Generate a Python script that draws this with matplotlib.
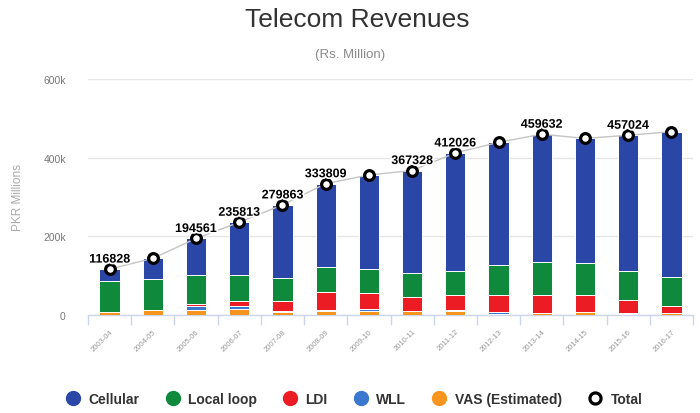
import numpy as np
import matplotlib
matplotlib.use("Agg")
import matplotlib.pyplot as plt
from matplotlib.lines import Line2D
import matplotlib.patheffects as pe
from matplotlib.ticker import FixedLocator

plt.rcParams['font.family'] = ['Liberation Sans', 'DejaVu Sans']

years = ["2003-04", "2004-05", "2005-06", "2006-07", "2007-08", "2008-09", "2009-10",
         "2010-11", "2011-12", "2012-13", "2013-14", "2014-15", "2015-16", "2016-17"]
cellular = [29828, 53000, 92561, 134813, 186000, 213000, 240000, 261000, 299000, 312000,
            324000, 318000, 344000, 370000]
local_loop = [79000, 79000, 74000, 65000, 58000, 62000, 59000, 59500, 62000, 76000,
              85000, 80500, 76000, 74000]
ldi = [0, 0, 5000, 14000, 26000, 47000, 43000, 36000, 38000, 44000, 45000, 42000, 33000, 18000]
wll = [0, 0, 11000, 6000, 1000, 1000, 3000, 1000, 4000, 4000, 1000, 500, 500, 0]
vas = [8000, 12000, 12000, 16000, 8863, 10809, 11000, 9828, 9026, 3000, 4632, 8000, 3524, 4000]
total = [116828, 144000, 194561, 235813, 279863, 333809, 356000, 367328, 412026, 439000,
         459632, 449000, 457024, 466000]
labelled = [0, 2, 3, 4, 5, 7, 8, 10, 12]

series = [("VAS (Estimated)", vas, "#f7941d"),
          ("WLL", wll, "#3a78d0"),
          ("LDI", ldi, "#ec1c24"),
          ("Local loop", local_loop, "#0f8a3c"),
          ("Cellular", cellular, "#2a47a7")]

W, H = 700, 414
fig = plt.figure(figsize=(W / 100, H / 100), dpi=100)
ax = fig.add_axes([88 / W, 1 - 316 / H, (693 - 88) / W, (316 - 80) / H])

x = np.arange(len(years))
bottom = np.zeros(len(years))
for name, vals, col in series:
    v = np.array(vals, dtype=float)
    ax.bar(x, v, bottom=bottom, width=0.47, color=col, edgecolor='white', linewidth=0.7, zorder=3)
    bottom += v

ax.plot(x, total, color='#c4c4c4', lw=1, zorder=4)
ax.plot(x, total, ls='', marker='o', ms=7, mfc='white', mec='black', mew=2.3, zorder=5)
for i in labelled:
    ax.annotate(f"{total[i]}", (x[i], total[i]), xytext=(0, 2.5), textcoords='offset points',
                ha='center', va='bottom', fontsize=9, fontweight='bold', color='black', zorder=6,
                path_effects=[pe.withStroke(linewidth=2.5, foreground='white')])

ax.set_xlim(-0.5, len(years) - 0.5)
ax.set_ylim(0, 600000)
ax.set_yticks([0, 200000, 400000, 600000])
ax.set_yticklabels(["0", "200k", "400k", "600k"], fontsize=7.5, color='#777777')
ax.tick_params(axis='y', length=0, pad=16)
ax.grid(axis='y', color='#e6e6e6', lw=1, zorder=0)
ax.set_axisbelow(True)
for s in ['top', 'right', 'left']:
    ax.spines[s].set_visible(False)
ax.spines['bottom'].set_color('#ccd6eb')
ax.spines['bottom'].set_linewidth(1)

ax.set_xticks(x)
ax.set_xticklabels(years, rotation=45, ha='right', rotation_mode='anchor', fontsize=5.5, color='#999999')
ax.tick_params(axis='x', which='major', length=0, pad=9)
ax.xaxis.set_minor_locator(FixedLocator(np.arange(-0.5, len(years), 1.0)))
ax.tick_params(axis='x', which='minor', length=7, color='#ccd6eb', width=1)

fig.text(357 / W, 1 - 20 / H, "Telecom Revenues", ha='center', va='center', fontsize=19, color='#333333')
fig.text(350 / W, 1 - 55 / H, "(Rs. Million)", ha='center', va='center', fontsize=9.5, color='#8a8a8a')
fig.text(18 / W, 1 - 198 / H, "PKR Millions", ha='center', va='center', rotation=90, fontsize=8.5, color='#aaaaaa')

handles = [Line2D([], [], ls='', marker='o', ms=10, mfc=c, mec=c) for _, _, c in series[::-1]]
labels = [n for n, _, _ in series[::-1]]
handles.append(Line2D([], [], ls='', marker='o', ms=8, mfc='white', mec='black', mew=2.3))
labels.append("Total")
fig.legend(handles, labels, loc='center', bbox_to_anchor=(355 / W, 1 - 400 / H), ncol=6, frameon=False,
           prop={'weight': 'bold', 'size': 10}, labelcolor='#333333', handlelength=0.8,
           handletextpad=0.7, columnspacing=2.0, borderaxespad=0)

fig.savefig("out.png", dpi=100)
